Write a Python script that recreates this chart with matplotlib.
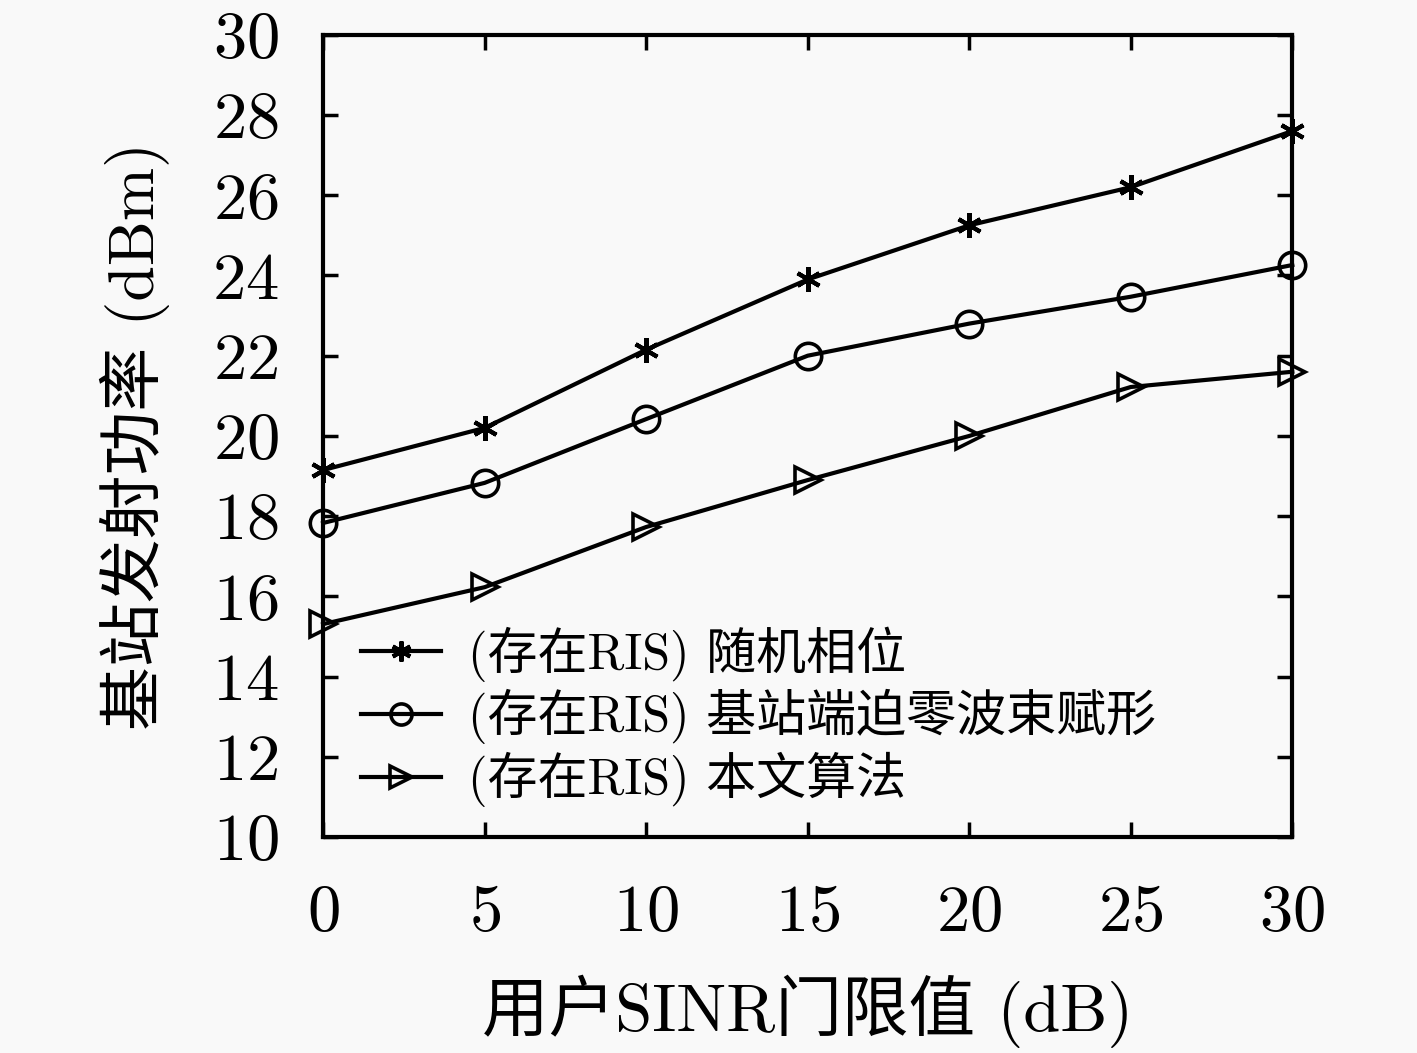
import matplotlib
matplotlib.use('Agg')
import matplotlib.pyplot as plt

plt.rcParams['font.family'] = ['cmr10', 'Noto Sans CJK SC', 'DejaVu Sans']
plt.rcParams['axes.formatter.use_mathtext'] = True

# data
sinr = [0, 5, 10, 15, 20, 25, 30]
random_phase = [19.15, 20.2, 22.15, 23.9, 25.25, 26.2, 27.6]
zero_forcing = [17.83, 18.83, 20.42, 22.0, 22.8, 23.47, 24.26]
proposed = [15.31, 16.23, 17.73, 18.9, 20.0, 21.22, 21.6]

labels = ['(存在RIS) 随机相位', '(存在RIS) 基站端迫零波束赋形', '(存在RIS) 本文算法']
xticks = [0, 5, 10, 15, 20, 25, 30]
yticks = [10, 12, 14, 16, 18, 20, 22, 24, 26, 28, 30]

fig = plt.figure(figsize=(14.17, 10.53), dpi=100, facecolor='#f9f9f9')
ax = fig.add_axes([0.228, 0.205, 0.684, 0.762])
ax.set_facecolor('#f9f9f9')

ax.plot(sinr, random_phase, color='black', lw=3, marker=(6, 2, 0),
        ms=18, mew=3, label=labels[0], clip_on=False, zorder=3)
ax.plot(sinr, zero_forcing, color='black', lw=3, marker='o', ms=19,
        mfc='none', mew=2.6, label=labels[1], clip_on=False, zorder=3)
ax.plot(sinr, proposed, color='black', lw=3, marker='>', ms=19,
        mfc='none', mew=2.6, label=labels[2], clip_on=False, zorder=3)

ax.set_xlim(0, 30)
ax.set_ylim(10, 30)
ax.set_xticks(xticks)
ax.set_yticks(yticks)
ax.tick_params(direction='in', top=True, right=True, length=11, width=2.5,
               labelsize=48)
ax.tick_params(axis='y', pad=32)
ax.tick_params(axis='x', pad=34)
for s in ax.spines.values():
    s.set_linewidth(3)

ax.set_xlabel('用户SINR门限值 (dB)', fontsize=48, labelpad=22)
ax.set_ylabel('基站发射功率 (dBm)', fontsize=46, labelpad=30)

leg = ax.legend(loc='lower left', bbox_to_anchor=(0.008, 0.0), frameon=False,
                fontsize=36, handlelength=1.6, handletextpad=0.55,
                labelspacing=0.15, borderaxespad=0.2, markerscale=0.8)

fig.savefig('out.png', dpi=100, facecolor=fig.get_facecolor())
